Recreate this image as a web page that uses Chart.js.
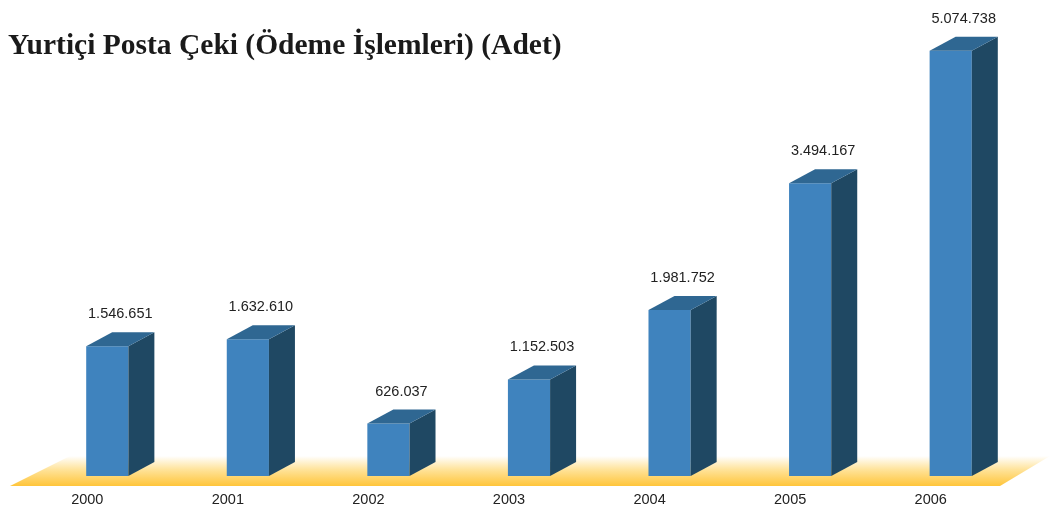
<!DOCTYPE html>
<html>
<head>
<meta charset="utf-8">
<script src="https://cdn.jsdelivr.net/npm/chart.js@4/dist/chart.umd.min.js"></script>
<style>
  html, body { margin: 0; padding: 0; background: #fff; }
  #wrap { position: relative; width: 1050px; height: 507px; }
  #titulo {
    position: absolute; left: 8px; top: 28px; margin: 0;
    font-family: "Liberation Serif", "Times New Roman", serif;
    font-weight: bold; font-size: 29.5px; color: #1a1a1a; white-space: nowrap;
  }
</style>
</head>
<body>
<div id="wrap">
  <canvas id="grafico" width="1050" height="507"></canvas>
  <div id="titulo">Yurtiçi Posta Çeki (Ödeme İşlemleri) (Adet)</div>
</div>
<script>
const anios = ['2000', '2001', '2002', '2003', '2004', '2005', '2006'];
const cantidades = [1546651, 1632610, 626037, 1152503, 1981752, 3494167, 5074738];

// profundidad del efecto 3D
const prof = { dx: 26, dy: 14 };

const formato = (n) => n.toLocaleString('de-DE');

const piso3D = {
  id: 'piso3D',
  beforeDatasetsDraw(chart) {
    const { ctx, chartArea: a } = chart;
    const yAbajo = a.bottom + 10;
    const yArriba = a.bottom - 20;
    const grad = ctx.createLinearGradient(0, yArriba, 0, yAbajo);
    grad.addColorStop(0, 'rgba(255,255,255,1)');
    grad.addColorStop(0.45, '#FFE39A');
    grad.addColorStop(1, '#FFC53A');
    ctx.save();
    ctx.beginPath();
    ctx.moveTo(a.left - 27, yAbajo);
    ctx.lineTo(a.left + 33, yArriba);
    ctx.lineTo(a.right + 29, yArriba);
    ctx.lineTo(a.right - 21, yAbajo);
    ctx.closePath();
    ctx.fillStyle = grad;
    ctx.fill();
    ctx.restore();
  }
};

const barras3D = {
  id: 'barras3D',
  afterDatasetsDraw(chart) {
    const { ctx } = chart;
    const meta = chart.getDatasetMeta(0);
    ctx.save();
    meta.data.forEach((bar, i) => {
      const { x, y, base, width } = bar.getProps(['x', 'y', 'base', 'width'], true);
      const izq = x - width / 2;
      const der = x + width / 2;
      // lado
      ctx.beginPath();
      ctx.moveTo(der, y);
      ctx.lineTo(der + prof.dx, y - prof.dy);
      ctx.lineTo(der + prof.dx, base - prof.dy);
      ctx.lineTo(der, base);
      ctx.closePath();
      ctx.fillStyle = '#1F4863';
      ctx.fill();
      // tapa
      ctx.beginPath();
      ctx.moveTo(izq, y);
      ctx.lineTo(izq + prof.dx, y - prof.dy);
      ctx.lineTo(der + prof.dx, y - prof.dy);
      ctx.lineTo(der, y);
      ctx.closePath();
      ctx.fillStyle = '#2F6792';
      ctx.fill();
      // valor
      ctx.fillStyle = '#222';
      ctx.font = '14.5px "Liberation Sans", Arial, sans-serif';
      ctx.textAlign = 'center';
      ctx.textBaseline = 'alphabetic';
      ctx.fillText(formato(cantidades[i]), x + prof.dx / 2, y - 28);
    });
    ctx.restore();
  }
};

new Chart(document.getElementById('grafico').getContext('2d'), {
  type: 'bar',
  data: {
    labels: anios,
    datasets: [{
      data: cantidades,
      backgroundColor: '#3F83BE',
      borderWidth: 0,
      barPercentage: 0.3,
      categoryPercentage: 1
    }]
  },
  options: {
    responsive: false,
    animation: false,
    events: [],
    layout: { padding: { top: 15, left: 37, right: 29, bottom: 0 } },
    plugins: { legend: { display: false }, tooltip: { enabled: false } },
    scales: {
      x: {
        grid: { display: false, drawTicks: false },
        border: { display: false },
        ticks: {
          color: '#222',
          font: { family: '"Liberation Sans", Arial, sans-serif', size: 14.5 },
          padding: 15,
          labelOffset: -20
        },
        afterFit: (s) => { s.height = 31; }
      },
      y: {
        display: false,
        min: 0,
        max: 5500000
      }
    }
  },
  plugins: [piso3D, barras3D]
});
</script>
</body>
</html>
